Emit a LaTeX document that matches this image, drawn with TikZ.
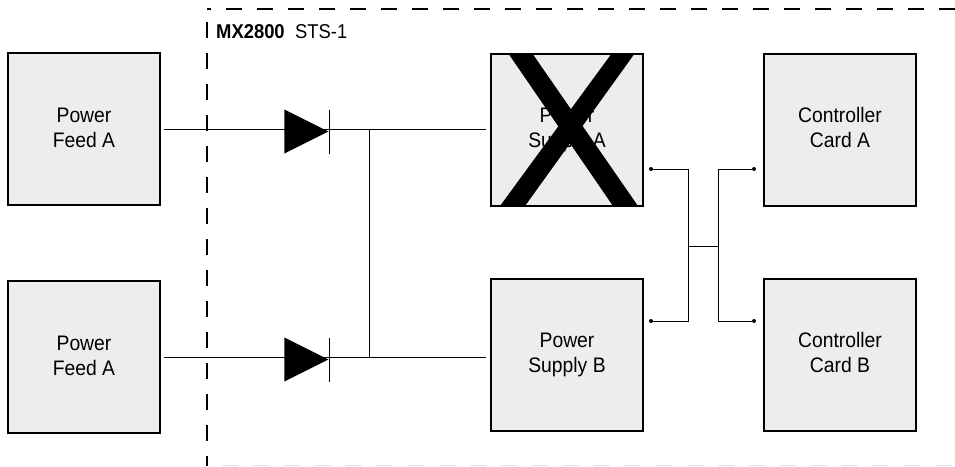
\documentclass[tikz,border=0pt]{standalone}
\usepackage{fontspec}
\setmainfont{Liberation Sans}
\newfontfamily\labelfont[FakeStretch=0.92]{Liberation Sans}
\usetikzlibrary{shapes.geometric}
\tikzset{
  unit/.style={draw,line width=2pt,fill=black!7,minimum size=152pt,inner sep=0pt,align=center,font=\labelfont\fontsize{21}{25}\selectfont},
  wire/.style={line width=1pt},
  boundary/.style={line width=2pt,dash pattern=on 16pt off 15pt},
  faint/.style={line width=1pt,black!12,dash pattern=on 16pt off 15pt},
  terminal/.style={circle,fill=black,inner sep=0pt,minimum size=4pt},
  diode/.style={isosceles triangle,isosceles triangle stretches,fill=black,inner sep=0pt,minimum width=44pt,minimum height=44pt,anchor=apex},
  tag/.style={inner sep=0pt,anchor=base west,font=\labelfont\fontsize{20}{22}\selectfont},
}
\begin{document}
\begin{tikzpicture}[x=1pt,y=-1pt]
  \useasboundingbox (0,0) rectangle (955,466);

  \begin{scope}[every node/.style={unit}]
    \node (feedA)    at (84,128.5)  {Power\\Feed A\rule[-2pt]{0pt}{2pt}};
    \node (feedB)    at (84,356.5)  {Power\\Feed A\rule[-2pt]{0pt}{2pt}};
    \node (supplyA)  at (567,129.5) {Power\\Supply A};
    \node (supplyB)  at (567,355)   {Power\\Supply B};
    \node (controlA) at (840,129.5) {Controller\\Card A\rule[-4pt]{0pt}{4pt}};
    \node (controlB) at (840,354.5) {Controller\\Card B\rule[-4pt]{0pt}{4pt}};
  \end{scope}

  % failed supply
  \fill (508,53) -- (532,53) -- (638,206) -- (613,206) -- cycle;
  \fill (612,53) -- (635,53) -- (525,206) -- (500,206) -- cycle;

  % chassis outline
  \draw[boundary] (955,9) -- (207,9);
  \draw[boundary] (207,22) -- (207,466);
  \draw[faint] (222,465.5) -- (955,465.5);
  \node[tag] (model) at (216,38.5) {\bfseries MX2800};
  \node[tag] (rate)  at (295,38.5) {STS-1};

  % feeds
  \coordinate (inA)  at (164,129);
  \coordinate (inB)  at (164,357);
  \coordinate (outA) at (486,129);
  \coordinate (outB) at (486,357);
  \node[diode] (diodeA) at (329,131.5) {};
  \node[diode] (diodeB) at (329,359.5) {};
  \draw[wire] (inA) -- (outA);
  \draw[wire] (inB) -- (outB);
  \coordinate (tieA) at (369,129);
  \coordinate (tieB) at (369,357);
  \draw[wire] (tieA) -- (tieB);
  \draw[wire] (diodeA.apex) ++(0,-22) -- ++(0,44);
  \draw[wire] (diodeB.apex) ++(0,-22) -- ++(0,44);

  % control bus
  \node[terminal] (t1) at (651,169) {};
  \node[terminal] (t2) at (651,321) {};
  \node[terminal] (t3) at (754,169) {};
  \node[terminal] (t4) at (754,321) {};
  \coordinate (busL) at (688,246);
  \coordinate (busR) at (718,246);
  \draw[wire] (t1) -| (busL) |- (t2);
  \draw[wire] (t3) -| (busR) |- (t4);
  \draw[wire] (busL) -- (busR);
\end{tikzpicture}
\end{document}
